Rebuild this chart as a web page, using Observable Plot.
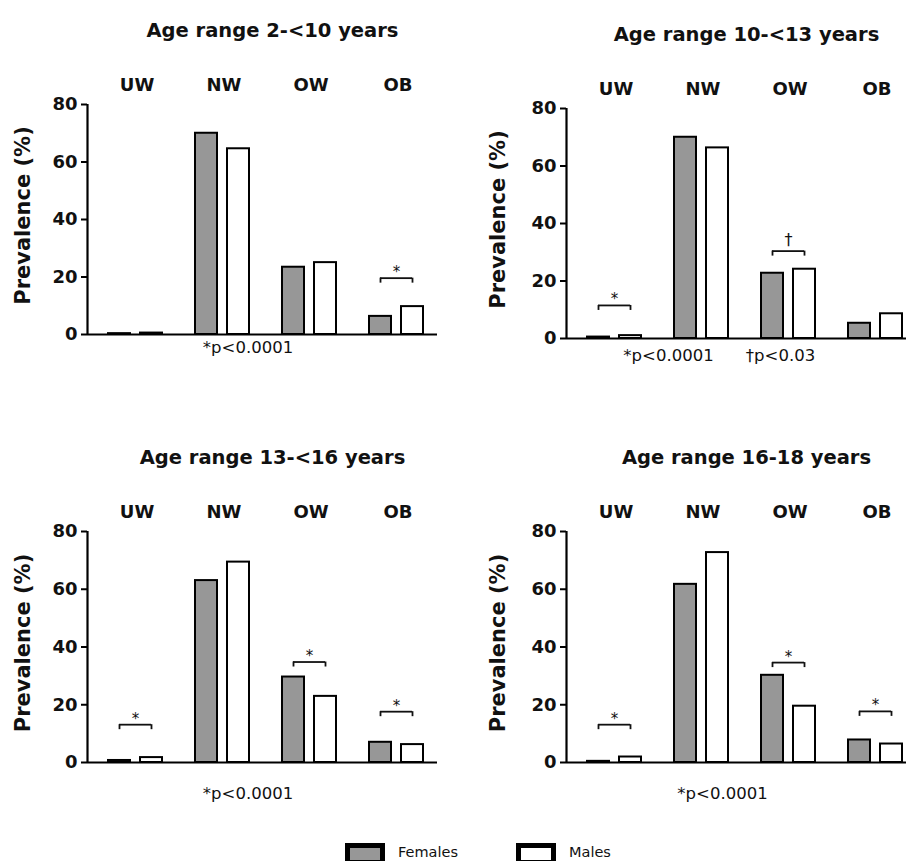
<!DOCTYPE html>
<html>
<head>
<meta charset="utf-8">
<script src="https://cdn.jsdelivr.net/npm/d3@7"></script>
<script src="https://cdn.jsdelivr.net/npm/@observablehq/plot@0.6"></script>
<style>
  html, body { margin: 0; padding: 0; background: #fff; }
  body { width: 906px; height: 861px; position: relative; overflow: hidden; font-family: "DejaVu Sans", sans-serif; }
  .panel { position: absolute; }
  .legend { position: absolute; top: 843px; left: 0; width: 906px; height: 24px; font-family: "DejaVu Sans", sans-serif; font-size: 14.5px; color: #111; }
  .legend .item { position: absolute; top: 0; display: flex; align-items: flex-start; }
  .legend .sw { width: 40px; height: 22px; box-sizing: border-box; border: 5px solid #000; }
  .legend .lab { margin-left: 13px; margin-top: 1px; }
</style>
</head>
<body>
<div id="p0" class="panel" style="left:0;top:0"></div>
<div id="p1" class="panel" style="left:453px;top:0"></div>
<div id="p2" class="panel" style="left:0;top:420px"></div>
<div id="p3" class="panel" style="left:453px;top:420px"></div>
<div class="legend">
  <div class="item" style="left:345px"><div class="sw" style="background:#979797"></div><div class="lab">Females</div></div>
  <div class="item" style="left:516px"><div class="sw" style="background:#fff"></div><div class="lab">Males</div></div>
</div>
<script>
// ---- data ----
const categories = ["UW", "NW", "OW", "OB"];
const yTicks = [0, 20, 40, 60, 80];
const panelTitles = ["Age range 2-<10 years", "Age range 10-<13 years", "Age range 13-<16 years", "Age range 16-18 years"];

const femalesAge2to10  = [0.3, 70.0, 23.4, 6.3];
const malesAge2to10    = [0.5, 64.6, 25.0, 9.7];
const femalesAge10to13 = [0.5, 70.0, 22.7, 5.3];
const malesAge10to13   = [1.0, 66.3, 24.1, 8.6];
const femalesAge13to16 = [0.7, 63.0, 29.6, 7.0];
const malesAge13to16   = [1.7, 69.4, 22.9, 6.2];
const femalesAge16to18 = [0.4, 61.7, 30.2, 7.8];
const malesAge16to18   = [1.9, 72.7, 19.5, 6.4];

// significance brackets: category, symbol, bracket level (%)
const sigAge2to10  = [{cat: "OB", sym: "*", level: 19.6}];
const sigAge10to13 = [{cat: "UW", sym: "*", level: 11.5}, {cat: "OW", sym: "†", level: 30.4}];
const sigAge13to16 = [{cat: "UW", sym: "*", level: 13.1}, {cat: "OW", sym: "*", level: 34.8}, {cat: "OB", sym: "*", level: 17.6}];
const sigAge16to18 = [{cat: "UW", sym: "*", level: 13.1}, {cat: "OW", sym: "*", level: 34.6}, {cat: "OB", sym: "*", level: 17.7}];

const notesAge2to10  = ["*p<0.0001"];
const notesAge10to13 = ["*p<0.0001", "†p<0.03"];
const notesAge13to16 = ["*p<0.0001"];
const notesAge16to18 = ["*p<0.0001"];

// ---- layout ----
const W = 453, H = 420, STEP = 87;
const layouts = [
  {ml: 87,  mr: 16, mt: 104, mb: 86, noteDy: 18, noteDx: [-14.5]},
  {ml: 113, mr: 0,  mt: 108, mb: 82, noteDy: 22, noteDx: [-68, 44]},
  {ml: 87,  mr: 16, mt: 111, mb: 78, noteDy: 36, noteDx: [-14.5]},
  {ml: 113, mr: 0,  mt: 111, mb: 78, noteDy: 36, noteDx: [-14]}
];
const panels = [
  {f: femalesAge2to10,  m: malesAge2to10,  sig: sigAge2to10,  notes: notesAge2to10},
  {f: femalesAge10to13, m: malesAge10to13, sig: sigAge10to13, notes: notesAge10to13},
  {f: femalesAge13to16, m: malesAge13to16, sig: sigAge13to16, notes: notesAge13to16},
  {f: femalesAge16to18, m: malesAge16to18, sig: sigAge16to18, notes: notesAge16to18}
];

const GRAY = "#979797";
const F_IN = [19, STEP - 41];   // insetLeft, insetRight (females)
const M_IN = [51, STEP - 73];   // males
const fCenter = 30, mCenter = 62;

panels.forEach((p, k) => {
  const L = layouts[k];
  const start = L.ml + 2;
  const fRows = categories.map((c, i) => ({cat: c, value: p.f[i]}));
  const mRows = categories.map((c, i) => ({cat: c, value: p.m[i]}));
  const frameW = W - L.ml - L.mr;
  const noteMarks = p.notes.map((t, i) =>
    Plot.text([t], {text: d => d, frameAnchor: "bottom", dy: L.noteDy, dx: L.noteDx[i], fontSize: 16.5, fill: "#111"}));
  const chart = Plot.plot({
    width: W, height: H,
    marginLeft: L.ml, marginRight: L.mr, marginTop: L.mt, marginBottom: L.mb,
    style: {fontFamily: "DejaVu Sans, sans-serif", background: "#fff", overflow: "visible"},
    x: {type: "band", domain: categories, range: [start, start + STEP * 4], padding: 0, axis: null},
    y: {domain: [0, 80]},
    marks: [
      Plot.barY(fRows, {x: "cat", y: "value", fill: GRAY, stroke: "#000", strokeWidth: 2, insetLeft: F_IN[0], insetRight: F_IN[1]}),
      Plot.barY(mRows, {x: "cat", y: "value", fill: "#fff", stroke: "#000", strokeWidth: 2, insetLeft: M_IN[0], insetRight: M_IN[1]}),
      Plot.ruleY([0], {stroke: "#000", strokeWidth: 2.2}),
      Plot.ruleX([null], {x: null, y1: 0, y2: 80, dx: -frameW / 2, stroke: "#000", strokeWidth: 2.2}),
      Plot.axisY({ticks: yTicks, tickSize: 6, tickPadding: 4, tickFormat: d => d, fontSize: 18, fontWeight: "bold", strokeWidth: 2, label: null, fill: "#111"}),
      // brackets
      Plot.ruleY(p.sig, {x1: "cat", x2: "cat", y: "level", insetLeft: fCenter, insetRight: STEP - mCenter, stroke: "#111", strokeWidth: 1.8}),
      Plot.ruleX(p.sig, {x: "cat", y1: "level", y2: "level", insetBottom: -5, dx: fCenter - STEP / 2, stroke: "#111", strokeWidth: 1.8}),
      Plot.ruleX(p.sig, {x: "cat", y1: "level", y2: "level", insetBottom: -5, dx: mCenter - STEP / 2, stroke: "#111", strokeWidth: 1.8}),
      Plot.text(p.sig.filter(d => d.sym === "*"), {x: "cat", y: "level", text: "sym", dx: (fCenter + mCenter) / 2 - STEP / 2, dy: -1, lineAnchor: "bottom", fontSize: 15, fill: "#111"}),
      Plot.text(p.sig.filter(d => d.sym !== "*"), {x: "cat", y: "level", text: "sym", dx: (fCenter + mCenter) / 2 - STEP / 2, dy: -6, lineAnchor: "bottom", fontSize: 16, fill: "#111"}),
      // category labels
      Plot.text(categories, {x: d => d, frameAnchor: "top", dy: -26, dx: 4, fontSize: 18, fontWeight: "bold", fill: "#111"}),
      // title
      Plot.text([panelTitles[k]], {frameAnchor: "top", dy: -81, dx: 10, fontSize: 19.5, fontWeight: "bold", fill: "#111"}),
      // y label
      Plot.text(["Prevalence (%)"], {frameAnchor: "left", dx: k % 2 ? -68 : -64, dy: -4, rotate: -90, textAnchor: "middle", fontSize: 21, fontWeight: "bold", fill: "#111"}),
      // footnotes
      ...noteMarks
    ]
  });
  document.getElementById("p" + k).appendChild(chart);
});
</script>
</body>
</html>
